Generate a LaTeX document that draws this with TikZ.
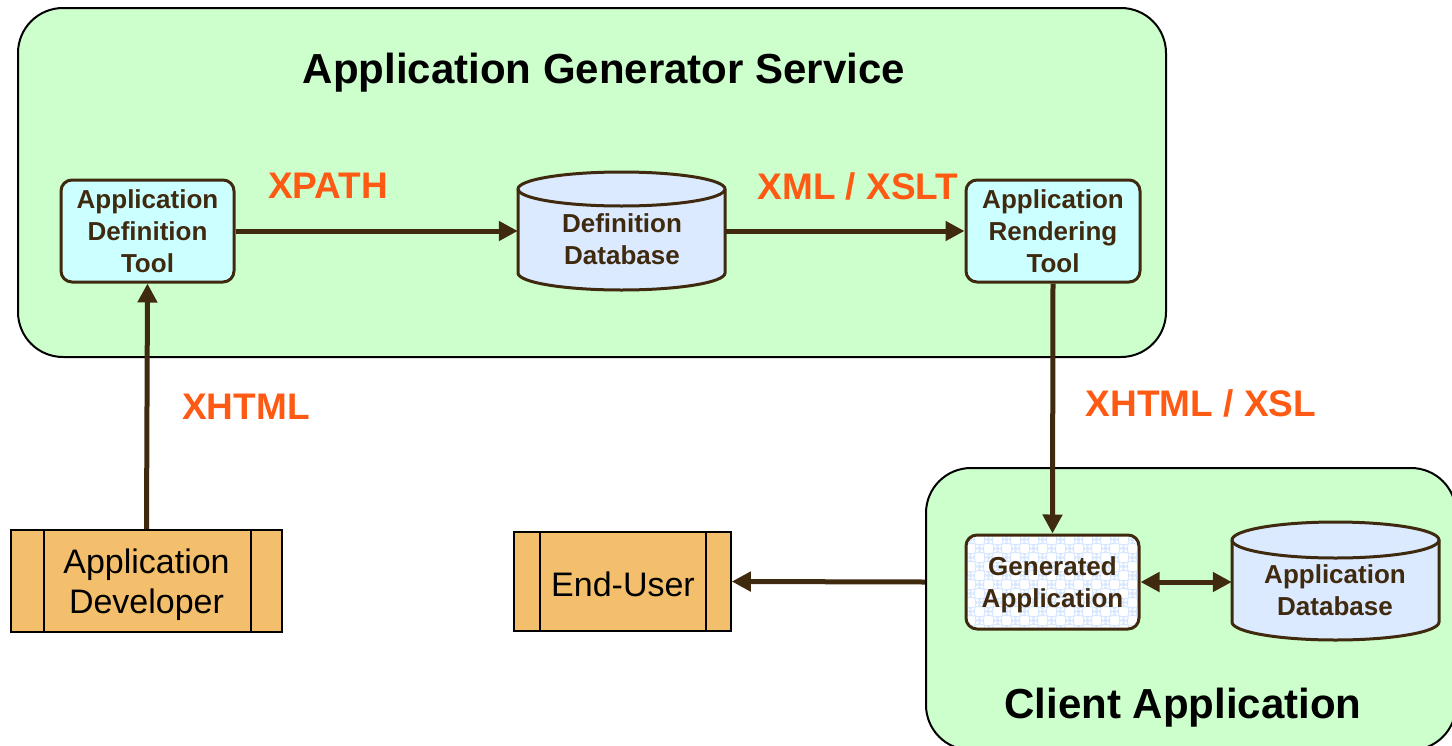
\documentclass[tikz,border=0pt]{standalone}
\usepackage{fontspec}
\setmainfont{Liberation Sans}
\usetikzlibrary{arrows.meta}
\definecolor{brn}{HTML}{3F2A0F}
\definecolor{orng}{HTML}{FF5A14}
\definecolor{grn}{HTML}{CCFFCC}
\definecolor{cyn}{HTML}{CCFFFF}
\definecolor{dbblue}{HTML}{DBEAFF}
\definecolor{chk}{HTML}{D6E7FF}
\definecolor{actor}{HTML}{F4BF6D}
\tikzset{
  region/.style={draw=black, line width=2pt, fill=grn, rounded corners=45pt, inner sep=0pt},
  toolbox/.style={draw=brn, line width=3pt, fill=cyn, rounded corners=11pt, inner sep=0pt, align=center,
     text=brn, font=\bfseries\fontsize{26}{32}\selectfont},
  actorbox/.style={draw=black, line width=1.6pt, fill=actor, inner sep=0pt},
  actortext/.style={align=center, inner sep=0pt, font=\fontsize{34}{40}\selectfont},
  lbl/.style={text=orng, font=\bfseries\fontsize{37}{42}\selectfont},
  ttl/.style={text=black, font=\bfseries\fontsize{42}{48}\selectfont},
  dbtext/.style={text=brn, align=center, font=\bfseries\fontsize{26}{32}\selectfont},
  dbshape/.style={draw=brn, line width=3pt, fill=dbblue},
  arr/.style={draw=brn, line width=5pt, -{Triangle[length=19pt,width=19pt]}},
  darr/.style={draw=brn, line width=5pt, {Triangle[length=19pt,width=19pt]}-{Triangle[length=19pt,width=19pt]}},
}
\begin{document}
\begin{tikzpicture}[x=1pt,y=-1pt]
\useasboundingbox (0,0) rectangle (1452,745);
\clip (0,0) rectangle (1452,745);
% regions
\node[region, minimum width=1148pt, minimum height=349pt] (ags) at (592,182.5) {};
\node[ttl] (agst) at (604,73) {Application Generator Service};
\node[region, minimum width=530pt, minimum height=282pt] (client) at (1191,609) {};
\node[ttl] (clientt) at (1183,708) {Client Application};
% tools
\node[toolbox, minimum width=173pt, minimum height=102pt] (adt) at (147.5,231) {Application\\Definition\\Tool};
\node[toolbox, minimum width=174pt, minimum height=102pt] (art) at (1053,231) {Application\\Rendering\\Tool};
\node[toolbox, fill=white, minimum width=173pt, minimum height=94pt,
  path picture={
    \foreach \i in {0,...,20}{\foreach \j in {0,...,11}{
      \pgfmathtruncatemacro\k{mod(\i+\j,2)}
      \ifnum\k=0
        \fill[chk] ([xshift={\i*9pt},yshift={-\j*9pt}]path picture bounding box.north west) rectangle ++(9pt,-9pt);
      \fi}}
  }] (gen) at (1052.5,582) {};
\node[dbtext] (gent) at (1052.5,585) {Generated\\Application};
% databases
\draw[dbshape] (518,189) -- (518,273) arc[start angle=180,end angle=360,x radius=103.5pt,y radius=17pt]
  -- (725,189) arc[start angle=0,end angle=180,x radius=103.5pt,y radius=17pt] -- cycle;
\draw[brn, line width=3pt] (518,189) arc[start angle=180,end angle=360,x radius=103.5pt,y radius=17pt];
\node[inner sep=0pt, minimum width=207pt, minimum height=101pt] (ddb) at (621.5,231) {};
\node[dbtext] (ddbt) at (622,239) {Definition\\Database};
\draw[dbshape] (1232,540) -- (1232,622) arc[start angle=180,end angle=360,x radius=103.5pt,y radius=18pt]
  -- (1439,540) arc[start angle=0,end angle=180,x radius=103.5pt,y radius=18pt] -- cycle;
\draw[brn, line width=3pt] (1232,540) arc[start angle=180,end angle=360,x radius=103.5pt,y radius=18pt];
\node[inner sep=0pt, minimum width=207pt, minimum height=100pt] (adb) at (1335.5,582) {};
\node[dbtext] (adbt) at (1335,590) {Application\\Database};
% actors
\node[actorbox, minimum width=271pt, minimum height=102pt] (dev) at (146.5,581) {};
\node[actortext] (devt) at (146.5,585) {Application\\Developer};
\draw[black, line width=1.6pt] ([xshift=34pt]dev.north west) -- ([xshift=34pt]dev.south west);
\draw[black, line width=1.6pt] ([xshift=-32pt]dev.north east) -- ([xshift=-32pt]dev.south east);
\node[actorbox, minimum width=217pt, minimum height=99pt] (eu) at (622.5,581.5) {};
\node[actortext] (eut) at (623,584) {End-User};
\draw[black, line width=1.6pt] ([xshift=27pt]eu.north west) -- ([xshift=27pt]eu.south west);
\draw[black, line width=1.6pt] ([xshift=-26pt]eu.north east) -- ([xshift=-26pt]eu.south east);
% connectors
\draw[arr] (dev.north) -- (adt.south);
\draw[arr] (adt.east) -- (ddb.west);
\draw[arr] (ddb.east) -- (art.west);
\draw[arr] (art.south) -- (gen.north);
\draw[darr] (gen.east) -- (adb.west);
\draw[arr] (client.west |- gen.west) -- (eu.east);
% labels
\node[lbl] (l1) at (328,186) {XPATH};
\node[lbl] (l2) at (858,186) {XML / XSLT};
\node[lbl] (l3) at (246,407) {XHTML};
\node[lbl] (l4) at (1201,403) {XHTML / XSL};
\end{tikzpicture}
\end{document}
